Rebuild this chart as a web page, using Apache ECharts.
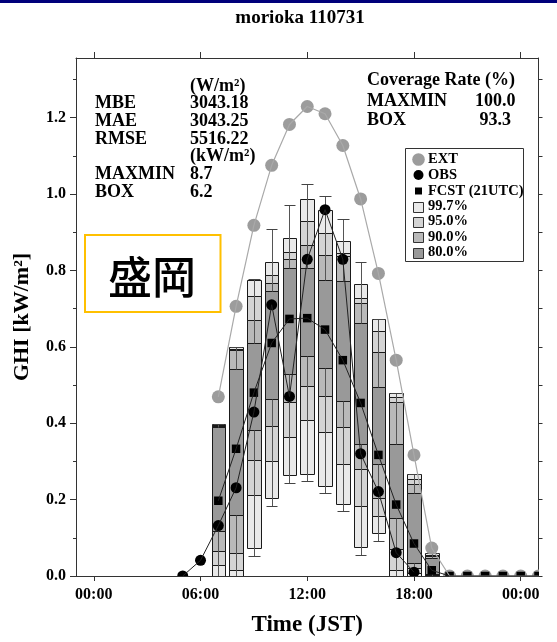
<!DOCTYPE html>
<html><head><meta charset="utf-8">
<script src="https://cdn.jsdelivr.net/npm/echarts@6/dist/echarts.min.js"></script>
<style>html,body{margin:0;padding:0;background:#fff}#c{width:557px;height:642px}</style>
</head><body><div id="c"></div>
<script>
// ---------- data ----------
const titleText = 'morioka 110731';
const xTickHours = [0, 6, 12, 18, 24];
const xTickLabels = ['00:00', '06:00', '12:00', '18:00', '00:00'];
const yMajorTicks = [0, 0.2, 0.4, 0.6, 0.8, 1.0, 1.2];
const yMinorTicks = [0.1, 0.3, 0.5, 0.7, 0.9, 1.1, 1.3];
const yAllTicks = [0, 0.1, 0.2, 0.3, 0.4, 0.5, 0.6, 0.7, 0.8, 0.9, 1.0, 1.1, 1.2, 1.3];

const extHours  = [7, 8, 9, 10, 11, 12, 13, 14, 15, 16, 17, 18, 19, 20, 21, 22, 23, 24, 25];
const extValues = [0.469, 0.706, 0.918, 1.075, 1.182, 1.229, 1.210, 1.127, 0.987, 0.792, 0.565, 0.317, 0.073, 0, 0, 0, 0, 0, 0];

const obsHours  = [5, 6, 7, 8, 9, 10, 11, 12, 13, 14, 15, 16, 17, 18];
const obsValues = [0.0, 0.041, 0.132, 0.231, 0.429, 0.710, 0.470, 0.829, 0.959, 0.829, 0.320, 0.221, 0.061, 0.010];

const fcstHours  = [7, 8, 9, 10, 11, 12, 13, 14, 15, 16, 17, 18, 19, 20, 21, 22, 23, 24, 25];
const fcstValues = [0.197, 0.333, 0.480, 0.610, 0.673, 0.675, 0.645, 0.565, 0.453, 0.317, 0.187, 0.085, 0.015, 0, 0, 0, 0, 0, 0];

// forecast spread per hour (kW/m2)
const boxHours = [7, 8, 9, 10, 11, 12, 13, 14, 15, 16, 17, 18, 19];
const boxMax   = [0.398, 0.600, 0.777, 0.909, 0.972, 1.026, 0.996, 0.935, 0.822, 0.674, 0.479, 0.268, 0.061];
const box997Hi = [0.398, 0.599, 0.775, 0.823, 0.885, 0.987, 0.957, 0.876, 0.765, 0.673, 0.478, 0.268, 0.061];
const box95Hi  = [0.395, 0.594, 0.732, 0.788, 0.849, 0.928, 0.898, 0.846, 0.727, 0.641, 0.468, 0.255, 0.056];
const box90Hi  = [0.393, 0.592, 0.671, 0.766, 0.831, 0.866, 0.840, 0.838, 0.714, 0.586, 0.455, 0.242, 0.052];
const box80Hi  = [0.390, 0.541, 0.610, 0.745, 0.807, 0.805, 0.775, 0.772, 0.661, 0.495, 0.345, 0.216, 0.046];
const box80Lo  = [0.119, 0.160, 0.381, 0.463, 0.530, 0.576, 0.545, 0.459, 0.346, 0.294, 0.152, 0.035, 0.004];
const box90Lo  = [0.066, 0.061, 0.303, 0.393, 0.455, 0.498, 0.470, 0.391, 0.281, 0.203, 0.070, 0.020, 0.002];
const box95Lo  = [0.030, 0.015, 0.212, 0.300, 0.363, 0.409, 0.378, 0.292, 0.182, 0.157, 0.016, 0.008, 0.0];
const box997Lo = [0.0, 0.0, 0.074, 0.203, 0.265, 0.267, 0.236, 0.188, 0.075, 0.112, 0.0, 0.0, 0.0];
const boxMin   = [0.0, 0.0, 0.052, 0.182, 0.243, 0.249, 0.218, 0.169, 0.056, 0.091, 0.0, 0.0, 0.0];

const statUnits = ['(W/m²)', '(kW/m²)'];
const statNames = ['MBE', 'MAE', 'RMSE', 'MAXMIN', 'BOX'];
const statValues = ['3043.18', '3043.25', '5516.22', '8.7', '6.2'];
const coverageTitle = 'Coverage Rate (%)';
const coverageNames = ['MAXMIN', 'BOX'];
const coverageValues = ['100.0', ' 93.3'];
const legendLabels = ['EXT', 'OBS', 'FCST (21UTC)', '99.7%', '95.0%', '90.0%', '80.0%'];
const placeLabel = '盛岡';

// ---------- styling ----------
const SERIF = '"Liberation Serif", "Times New Roman", serif';
const boxFills = ['#e9e9e9', '#d4d4d4', '#b9b9b9', '#999999'];
const BOX_W_H = 0.76;

const boxData = boxHours.map((h, i) => [h, boxMin[i], box997Lo[i], box95Lo[i], box90Lo[i], box80Lo[i],
  box80Hi[i], box90Hi[i], box95Hi[i], box997Hi[i], boxMax[i]]);

function renderBox(params, api) {
  const h = api.value(0);
  const cx = api.coord([h, 0])[0];
  const w = api.size([BOX_W_H, 0])[0];
  const x0 = Math.round(cx - w / 2) + 0.5;
  const x1 = Math.round(cx + w / 2) + 0.5;
  const ys = i => Math.round(api.coord([h, api.value(i)])[1]) + 0.5;
  const ch = [];
  for (let k = 0; k < 4; k++) {
    const yLo = ys(2 + k), yHi = ys(9 - k);
    ch.push({ type: 'rect', shape: { x: x0, y: yHi, width: x1 - x0, height: yLo - yHi },
      style: { fill: boxFills[k], stroke: '#1a1a1a', lineWidth: 1 } });
  }
  const cxr = Math.round(cx) + 0.5;
  const ls = { stroke: '#555', lineWidth: 1 };
  ch.push({ type: 'line', shape: { x1: cxr, y1: ys(10), x2: cxr, y2: ys(6) }, style: ls });
  ch.push({ type: 'line', shape: { x1: cxr, y1: ys(5), x2: cxr, y2: ys(1) }, style: ls });
  ch.push({ type: 'line', shape: { x1: x0 + 1, y1: ys(10), x2: x1 - 1, y2: ys(10) }, style: { stroke: '#444', lineWidth: 1 } });
  ch.push({ type: 'line', shape: { x1: x0 + 1, y1: ys(1), x2: x1 - 1, y2: ys(1) }, style: { stroke: '#444', lineWidth: 1 } });
  return { type: 'group', children: ch };
}

function markerSeries(name, hours, values, kind, size, color) {
  return {
    type: 'custom', name, clip: true, silent: true,
    data: hours.map((h, i) => [h, values[i]]),
    renderItem(params, api) {
      const p = api.coord([api.value(0), api.value(1)]);
      if (kind === 'circle') return { type: 'circle', shape: { cx: p[0], cy: p[1], r: size / 2 }, style: { fill: color } };
      return { type: 'rect', shape: { x: p[0] - size / 2, y: p[1] - size / 2, width: size, height: size }, style: { fill: color } };
    }
  };
}
function lineSeries(name, hours, values, color, width) {
  return { type: 'line', name, data: hours.map((h, i) => [h, values[i]]), symbol: 'none', clip: true, silent: true,
    lineStyle: { color, width } };
}

function txt(text, x, y, size, align, extra) {
  return Object.assign({ type: 'text', x, y, silent: true,
    style: { text, font: 'bold ' + size + 'px ' + SERIF, fill: '#000', align: align || 'left', textAlign: align || 'left',
      verticalAlign: 'middle', textVerticalAlign: 'middle' } }, extra || {});
}

const graphics = [];
graphics.push({ type: 'rect', shape: { x: 0, y: 0, width: 557, height: 3 }, style: { fill: '#00007a' }, silent: true });
graphics.push(txt(titleText, 300, 18, 19, 'center'));
// left stats
graphics.push(txt(statUnits[0], 190, 86, 18));
const statY = [103, 121, 139, 174, 192];
statNames.forEach((n, i) => { graphics.push(txt(n, 95, statY[i], 18)); graphics.push(txt(statValues[i], 190, statY[i], 18)); });
graphics.push(txt(statUnits[1], 190, 156, 18));
// coverage
graphics.push(txt(coverageTitle, 367, 80, 18));
const covY = [101.5, 120];
coverageNames.forEach((n, i) => { graphics.push(txt(n, 367, covY[i], 18)); graphics.push(txt(coverageValues[i], 475, covY[i], 18)); });
// legend
graphics.push({ type: 'rect', shape: { x: 405.5, y: 148.5, width: 118, height: 113 }, style: { fill: '#fff', stroke: '#333', lineWidth: 1 }, silent: true });
const legY = [159.5, 175, 191, 206.5, 221.5, 237, 252.5];
legendLabels.forEach((l, i) => {
  const y = legY[i];
  if (i === 0) graphics.push({ type: 'circle', shape: { cx: 418.5, cy: y, r: 6.3 }, style: { fill: '#9c9c9c' }, silent: true });
  else if (i === 1) graphics.push({ type: 'circle', shape: { cx: 418.5, cy: y, r: 5 }, style: { fill: '#000' }, silent: true });
  else if (i === 2) graphics.push({ type: 'rect', shape: { x: 415, y: y - 3.5, width: 7, height: 7 }, style: { fill: '#000' }, silent: true });
  else graphics.push({ type: 'rect', shape: { x: 413.5, y: Math.round(y) - 4.5, width: 10, height: 10 }, style: { fill: boxFills[i - 3], stroke: '#333', lineWidth: 1 }, silent: true });
  graphics.push(txt(l, 428, y, 14.5));
});
// place label box
graphics.push({ type: 'rect', shape: { x: 85, y: 235, width: 135.5, height: 77 }, style: { fill: '#fff', stroke: '#ffc000', lineWidth: 2 }, silent: true });
graphics.push({ type: 'text', x: 152, y: 277, silent: true,
  style: { text: placeLabel, font: '500 44px "Noto Sans CJK JP"', fill: '#000', align: 'center', textAlign: 'center', verticalAlign: 'middle', textVerticalAlign: 'middle' } });

const axisLineStyle = { color: '#333', width: 1 };
const option = {
  animation: false,
  backgroundColor: '#fff',
  grid: { left: 76, right: 18.5, top: 58, bottom: 62, containLabel: false },
  xAxis: [
    { type: 'value', position: 'bottom', min: -1, max: 25,
      axisLine: { show: true, onZero: false, lineStyle: axisLineStyle },
      axisTick: { show: true, customValues: xTickHours, length: 5, lineStyle: axisLineStyle },
      axisLabel: { show: true, customValues: xTickHours, margin: 11,
        formatter: v => xTickLabels[xTickHours.indexOf(Math.round(v))] || '',
        fontFamily: SERIF, fontWeight: 'bold', fontSize: 16, color: '#000' },
      splitLine: { show: false },
      name: 'Time (JST)', nameLocation: 'middle', nameGap: 38,
      nameTextStyle: { fontFamily: SERIF, fontWeight: 'bold', fontSize: 23, color: '#000' } },
    { type: 'value', position: 'top', min: -1, max: 25,
      axisLine: { show: true, onZero: false, lineStyle: axisLineStyle },
      axisTick: { show: true, customValues: xTickHours, length: 6, lineStyle: axisLineStyle },
      axisLabel: { show: false }, splitLine: { show: false } }
  ],
  yAxis: [
    { type: 'value', position: 'left', min: 0, max: 1.356,
      axisLine: { show: true, onZero: false, lineStyle: axisLineStyle },
      axisTick: { show: true, customValues: yMajorTicks, length: 6, lineStyle: axisLineStyle },
      axisLabel: { show: true, customValues: yMajorTicks, margin: 10, formatter: v => v.toFixed(1),
        fontFamily: SERIF, fontWeight: 'bold', fontSize: 16, color: '#000' },
      splitLine: { show: false },
      name: 'GHI [kW/m²]', nameLocation: 'middle', nameGap: 43,
      nameTextStyle: { fontFamily: SERIF, fontWeight: 'bold', fontSize: 22, color: '#000' } },
    { type: 'value', position: 'right', min: 0, max: 1.356,
      axisLine: { show: true, onZero: false, lineStyle: axisLineStyle },
      axisTick: { show: true, customValues: yAllTicks, length: 4, lineStyle: axisLineStyle },
      axisLabel: { show: false }, splitLine: { show: false } },
    { type: 'value', position: 'left', min: 0, max: 1.356,
      axisLine: { show: false, onZero: false },
      axisTick: { show: true, customValues: yMinorTicks, length: 3, lineStyle: axisLineStyle },
      axisLabel: { show: false }, splitLine: { show: false } }
  ],
  series: [
    { type: 'custom', name: 'box', clip: true, silent: true, data: boxData, renderItem: renderBox,
      encode: { x: 0, y: [1, 10] } },
    lineSeries('EXT', extHours, extValues, '#a9a9a9', 1.2),
    markerSeries('EXTm', extHours, extValues, 'circle', 13, '#9c9c9c'),
    lineSeries('OBS', obsHours, obsValues, '#222', 1),
    markerSeries('OBSm', obsHours, obsValues, 'circle', 11, '#000'),
    lineSeries('FCST', fcstHours, fcstValues, '#222', 1),
    markerSeries('FCSTm', fcstHours, fcstValues, 'rect', 8.5, '#000')
  ],
  graphic: { elements: graphics }
};
const chart = echarts.init(document.getElementById('c'), null, { renderer: 'canvas' });
chart.setOption(option);
</script></body></html>
